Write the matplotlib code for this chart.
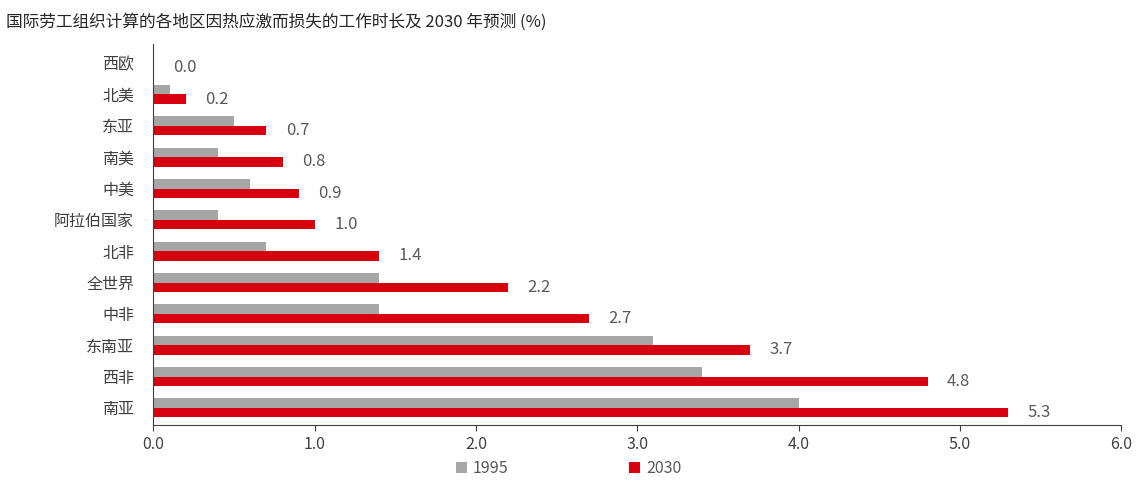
import numpy as np
import matplotlib.pyplot as plt

plt.rcParams['font.family'] = ['Noto Sans CJK SC', 'DejaVu Sans']

regions = ['西欧', '北美', '东亚', '南美', '中美', '阿拉伯国家', '北非', '全世界', '中非', '东南亚', '西非', '南亚']
v1995 = [0.0, 0.1, 0.5, 0.4, 0.6, 0.4, 0.7, 1.4, 1.4, 3.1, 3.4, 4.0]
v2030 = [0.0, 0.2, 0.7, 0.8, 0.9, 1.0, 1.4, 2.2, 2.7, 3.7, 4.8, 5.3]

fig = plt.figure(figsize=(11.37, 4.82), dpi=100)
ax = fig.add_axes([0.135, 0.118, 0.851, 0.79])
y = np.arange(len(regions))
h = 0.3
ax.barh(y - h/2, v1995, height=h, color='#a6a6a6', label='1995')
ax.barh(y + h/2, v2030, height=h, color='#d7000f', label='2030')
for yi, v in zip(y, v2030):
    ax.text(v + 0.12, yi + h/2, f'{v:.1f}', va='center', ha='left', fontsize=12, color='#595959')

ax.set_yticks(y)
ax.set_yticklabels(regions, fontsize=11.5, color='#404040')
ax.set_ylim(len(regions) - 0.45, -0.6)
ax.set_xlim(0, 6)
ax.set_xticks(np.arange(0, 6.1, 1))
ax.set_xticklabels([f'{t:.1f}' for t in np.arange(0, 6.1, 1)], fontsize=11.5, color='#404040')
ax.tick_params(axis='y', length=0, pad=14)
ax.tick_params(axis='x', direction='out', length=4, color='#404040')
for s in ['top', 'right']:
    ax.spines[s].set_visible(False)
ax.spines['left'].set_color('#404040')
ax.spines['bottom'].set_color('#404040')

fig.text(0.005, 0.955, '国际劳工组织计算的各地区因热应激而损失的工作时长及 2030 年预测 (%)', fontsize=12, color='#262626', va='center')
fig.legend(loc='lower center', bbox_to_anchor=(0.5, -0.02), ncol=2, frameon=False,
           fontsize=11.5, handlelength=0.7, handleheight=0.7, handletextpad=0.4,
           columnspacing=7.5, labelcolor='#595959')

fig.savefig('out.png', dpi=100)
